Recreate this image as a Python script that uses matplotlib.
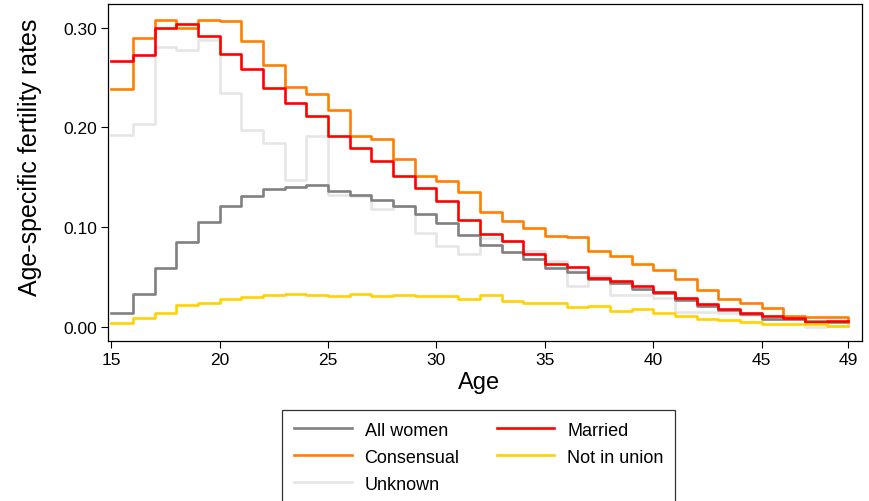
import numpy as np
import matplotlib
matplotlib.use("Agg")
import matplotlib.pyplot as plt

plt.rcParams['font.family'] = ['Liberation Sans', 'DejaVu Sans']

# age-specific fertility rates by union status, single years 15-49
ages = np.arange(15, 50)

all_women = [0.014, 0.033, 0.059, 0.085, 0.105, 0.121, 0.131, 0.138, 0.140, 0.142,
             0.136, 0.132, 0.127, 0.121, 0.113, 0.104, 0.092, 0.082, 0.075, 0.068,
             0.059, 0.055, 0.048, 0.044, 0.038, 0.034, 0.027, 0.021, 0.017, 0.013,
             0.008, 0.008, 0.006, 0.005, 0.005]
married = [0.266, 0.272, 0.300, 0.304, 0.292, 0.273, 0.258, 0.239, 0.224, 0.211,
           0.191, 0.179, 0.166, 0.151, 0.139, 0.126, 0.107, 0.093, 0.086, 0.073,
           0.063, 0.060, 0.049, 0.046, 0.041, 0.035, 0.029, 0.023, 0.018, 0.014,
           0.011, 0.009, 0.005, 0.006, 0.006]
consensual = [0.238, 0.290, 0.308, 0.300, 0.308, 0.307, 0.286, 0.262, 0.240, 0.233,
              0.217, 0.191, 0.188, 0.168, 0.151, 0.146, 0.135, 0.115, 0.106, 0.099,
              0.091, 0.090, 0.076, 0.071, 0.063, 0.057, 0.048, 0.037, 0.028, 0.024,
              0.019, 0.011, 0.010, 0.010, 0.005]
not_in_union = [0.004, 0.0085, 0.014, 0.0215, 0.024, 0.0275, 0.030, 0.032, 0.033, 0.032,
                0.031, 0.0325, 0.031, 0.032, 0.0305, 0.0305, 0.0275, 0.0315, 0.0255, 0.024,
                0.0235, 0.0195, 0.021, 0.016, 0.0175, 0.0135, 0.011, 0.0075, 0.0065, 0.005,
                0.0025, 0.0025, 0.0025, 0.001, 0.001]
unknown = [0.192, 0.203, 0.280, 0.277, 0.288, 0.234, 0.197, 0.184, 0.147, 0.191,
           0.132, 0.131, 0.118, 0.121, 0.094, 0.081, 0.073, 0.089, 0.086, 0.076,
           0.066, 0.041, 0.051, 0.032, 0.032, 0.029, 0.015, 0.015, 0.0135, 0.0115,
           0.0075, 0.0075, 0.000, 0.001, 0.006]

xticks = [15, 20, 25, 30, 35, 40, 45, 49]
yticks = [0.0, 0.1, 0.2, 0.3]

fig = plt.figure(figsize=(8.69, 5.02), dpi=100)
ax = fig.add_axes([0.1243, 0.3187, 0.8677, 0.6713])

lw = 1.9
l_unk, = ax.plot(ages, unknown, drawstyle='steps-post', color='#e6e6e6', lw=lw, label='Unknown')
l_all, = ax.plot(ages, all_women, drawstyle='steps-post', color='#808080', lw=lw, label='All women')
l_cons, = ax.plot(ages, consensual, drawstyle='steps-post', color='#ff8000', lw=lw, label='Consensual')
l_mar, = ax.plot(ages, married, drawstyle='steps-post', color='#ff0000', lw=lw, label='Married')
l_niu, = ax.plot(ages, not_in_union, drawstyle='steps-post', color='#ffd200', lw=lw, label='Not in union')

ax.set_xlim(14.85, 49.63)
ax.set_ylim(-0.0145, 0.3236)
ax.set_xticks(xticks)
ax.set_yticks(yticks)
ax.set_yticklabels(['{:.2f}'.format(v) for v in yticks])
ax.tick_params(direction='out', length=5, width=0.8, labelsize=12.5, colors='black', pad=3)
for s in ax.spines.values():
    s.set_linewidth(0.9)

ax.set_xlabel('Age', fontsize=17)
ax.set_ylabel('Age-specific fertility rates', fontsize=18)
ax.xaxis.set_label_coords(0.492, -0.088)
ax.yaxis.set_label_coords(-0.088, 0.549)

# legend rows: All women / Married, Consensual / Not in union, Unknown
handles = [l_all, l_cons, l_unk, l_mar, l_niu]
leg = fig.legend(handles, [h.get_label() for h in handles], ncol=2,
                 loc='upper left', bbox_to_anchor=(282 / 869, 1 - 411 / 502),
                 fontsize=13, frameon=True, fancybox=False, edgecolor='black',
                 handlelength=3.2, handletextpad=0.72, columnspacing=2.05,
                 labelspacing=0.55, borderpad=0.65, borderaxespad=0)
leg.get_frame().set_linewidth(0.9)

fig.savefig('out.png', dpi=100)
